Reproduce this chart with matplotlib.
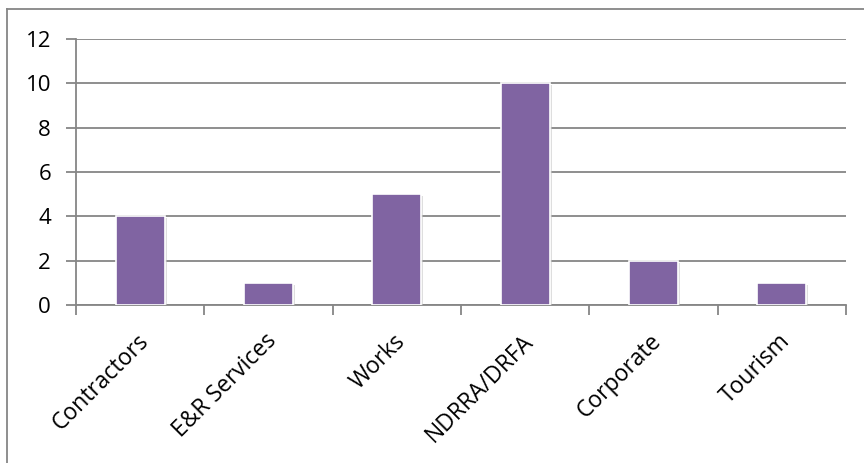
import matplotlib
matplotlib.use("Agg")
import matplotlib.pyplot as plt
import matplotlib.patheffects as pe
from matplotlib.lines import Line2D
import numpy as np

categories = ["Contractors", "E&R Services", "Works", "NDRRA/DRFA", "Corporate", "Tourism"]
counts = [4, 1, 5, 10, 2, 1]
yticks = [0, 2, 4, 6, 8, 10, 12]

plt.rcParams['font.family'] = ['Open Sans', 'DejaVu Sans']

fig = plt.figure(figsize=(8.64, 4.63), dpi=100)
ax = fig.add_axes([76/864, 1 - 305/463, 770/864, 266/463])

grey = "#868686"
x = np.arange(len(categories))
bars = ax.bar(x, counts, width=0.38, color="#8064A2", edgecolor="white",
              linewidth=1.2, zorder=3)
for b in bars:
    b.set_path_effects([pe.SimplePatchShadow(offset=(1.5, -1.5), shadow_rgbFace="#c8c8c8", alpha=0.6),
                        pe.Normal()])

ax.set_xlim(-0.5, len(categories) - 0.5)
ax.set_ylim(0, 12)
ax.set_yticks(yticks)
ax.yaxis.grid(True, color=grey, linewidth=1.3, zorder=0)
ax.set_axisbelow(True)

# ticks at category boundaries
ax.set_xticks(np.arange(len(categories) + 1) - 0.5)
ax.set_xticklabels([])
ax.tick_params(axis='x', direction='out', length=7, width=1.3, color=grey)
ax.tick_params(axis='y', direction='out', length=7, width=1.3, color=grey,
               labelsize=16, pad=11)
for i, name in enumerate(categories):
    ax.text(i - 0.03, -1.1, name, rotation=45, ha='right', va='top',
            rotation_mode='anchor', fontsize=16.5)

for s in ['top', 'right']:
    ax.spines[s].set_visible(False)
for s in ['left', 'bottom']:
    ax.spines[s].set_color(grey)
    ax.spines[s].set_linewidth(1.3)

# outer chart border (runs off the image at right and bottom)
fig.add_artist(Line2D([7/864, 1.0], [1 - 9/463, 1 - 9/463], color=grey, linewidth=1.3))
fig.add_artist(Line2D([7/864, 7/864], [0.0, 1 - 9/463], color=grey, linewidth=1.3))

fig.savefig("out.png", dpi=100)
